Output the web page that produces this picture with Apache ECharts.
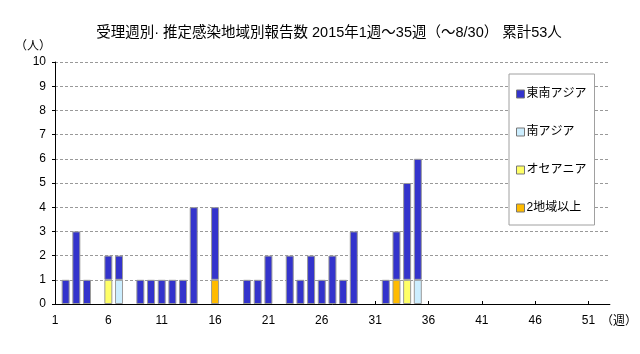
<!DOCTYPE html>
<html>
<head>
<meta charset="utf-8">
<script src="https://cdn.jsdelivr.net/npm/echarts@6/dist/echarts.min.js"></script>
<style>
  html,body{margin:0;padding:0;background:#fff;}
  #main{width:640px;height:354px;}
</style>
</head>
<body>
<div id="main"></div>
<script type="text/javascript">
// 週 1〜53
var weeks = ['1','2','3','4','5','6','7','8','9','10','11','12','13','14','15','16','17','18','19','20',
  '21','22','23','24','25','26','27','28','29','30','31','32','33','34','35','36','37','38','39','40',
  '41','42','43','44','45','46','47','48','49','50','51','52','53'];

// 週ごとの報告数（1-10 / 11-20 / 21-30 / 31-40 / 41-50 / 51-53）
var seAsia  = [0,1,3,1,0,1,1,0,1,1,  1,1,1,4,0,3,0,0,1,1,  2,0,2,1,2,1,2,1,3,0,  0,1,2,4,5,0,0,0,0,0,  0,0,0,0,0,0,0,0,0,0,  0,0,0];
var sAsia   = [0,0,0,0,0,0,1,0,0,0,  0,0,0,0,0,0,0,0,0,0,  0,0,0,0,0,0,0,0,0,0,  0,0,0,0,1,0,0,0,0,0,  0,0,0,0,0,0,0,0,0,0,  0,0,0];
var oceania = [0,0,0,0,0,1,0,0,0,0,  0,0,0,0,0,0,0,0,0,0,  0,0,0,0,0,0,0,0,0,0,  0,0,0,1,0,0,0,0,0,0,  0,0,0,0,0,0,0,0,0,0,  0,0,0];
var multi   = [0,0,0,0,0,0,0,0,0,0,  0,0,0,0,0,1,0,0,0,0,  0,0,0,0,0,0,0,0,0,0,  0,0,1,0,0,0,0,0,0,0,  0,0,0,0,0,0,0,0,0,0,  0,0,0];

var yTicks = [0,1,2,3,4,5,6,7,8,9,10];

var FONT = '"Liberation Sans", "Noto Sans CJK JP", sans-serif';

function nz(arr){
	return arr.map(function(v){ return v === 0 ? '-' : v; });
}

function barSeries(name, data, color){
	return {
		name: name,
		type: 'bar',
		stack: 'total',
		barWidth: 8,
		data: nz(data),
		itemStyle: {color: color, borderColor: '#9a9a9a', borderWidth: 1},
		emphasis: {disabled: true}
	};
}

var myChart = echarts.init(document.getElementById('main'));

var option = {
	animation: false,
	textStyle: {fontFamily: FONT},
	title: {
		text: '受理週別· 推定感染地域別報告数 2015年1週～35週（～8/30） 累計53人',
		left: 324,
		textAlign: 'center',
		top: 21,
		textStyle: {fontSize: 14.5, fontWeight: 'normal', color: '#000', fontFamily: FONT}
	},
	legend: {
		orient: 'vertical',
		left: 509,
		top: 74,
		padding: [14, 8, 11, 7],
		itemGap: 26,
		itemWidth: 8,
		itemHeight: 8,
		icon: 'rect',
		backgroundColor: '#fff',
		borderColor: '#a0a0a0',
		borderWidth: 1,
		data: ['東南アジア', '南アジア', 'オセアニア', '2地域以上'],
		textStyle: {fontSize: 12, color: '#000', fontFamily: FONT, padding: [0, 0, 0, -3]},
		itemStyle: {borderColor: '#777', borderWidth: 1}
	},
	grid: {left: 55, right: 27, top: 62, bottom: 50},
	xAxis: {
		type: 'category',
		data: weeks,
		boundaryGap: false,
		name: '（週）',
		nameGap: -9,
		nameTextStyle: {fontSize: 12, color: '#000', verticalAlign: 'top', padding: [12, 0, 0, 0]},
		axisLine: {lineStyle: {color: '#000', width: 1}},
		axisTick: {interval: 4, inside: true, length: 3, lineStyle: {color: '#000'}},
		axisLabel: {interval: 4, fontSize: 12, color: '#000', margin: 11},
		splitLine: {show: false}
	},
	yAxis: {
		type: 'value',
		min: yTicks[0],
		max: yTicks[yTicks.length - 1],
		interval: 1,
		name: '（人）',
		nameLocation: 'end',
		nameGap: 9,
		nameTextStyle: {fontSize: 12, color: '#000', align: 'right', padding: [0, 4, 0, 0]},
		axisLine: {show: true, lineStyle: {color: '#000', width: 1}},
		axisTick: {show: true, length: 3, lineStyle: {color: '#000'}},
		axisLabel: {fontSize: 12, color: '#000', margin: 9},
		splitLine: {lineStyle: {color: '#999', type: [3, 2], width: 1}}
	},
	series: [
		barSeries('2地域以上', multi, '#ffbb00'),
		barSeries('オセアニア', oceania, '#ffff66'),
		barSeries('南アジア', sAsia, '#cceeff'),
		barSeries('東南アジア', seAsia, '#3333cc')
	]
};

myChart.setOption(option);
</script>
</body>
</html>
